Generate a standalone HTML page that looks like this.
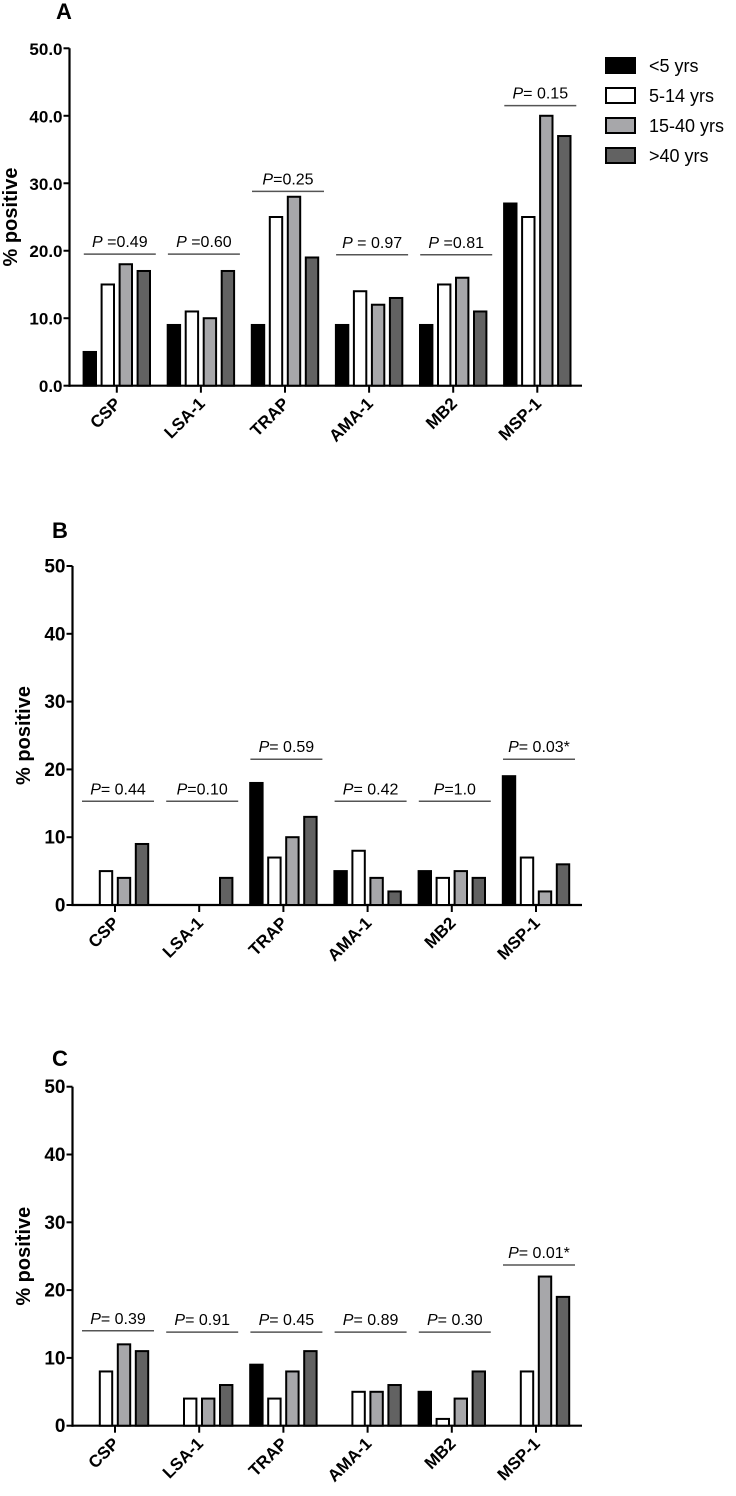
<!DOCTYPE html>
<html><head><meta charset="utf-8"><style>
html,body{margin:0;padding:0;background:#fff;}
svg{display:block;font-family:"Liberation Sans",sans-serif;}
</style></head><body>
<svg id="fig" width="736" height="1496" viewBox="0 0 736 1496" xmlns="http://www.w3.org/2000/svg"></svg>
<script>
const categories = ["CSP","LSA-1","TRAP","AMA-1","MB2","MSP-1"];
const seriesNames = ["<5 yrs","5-14 yrs","15-40 yrs",">40 yrs"];
const aUnder5 = [5,9,9,9,9,27];
const a5to14 = [15,11,25,14,15,25];
const a15to40 = [18,10,28,12,16,40];
const aOver40 = [17,17,19,13,11,37];
const bUnder5 = [0,0,18,5,5,19];
const b5to14 = [5,0,7,8,4,7];
const b15to40 = [4,0,10,4,5,2];
const bOver40 = [9,4,13,2,4,6];
const cUnder5 = [0,0,9,0,5,0];
const c5to14 = [8,4,4,5,1,8];
const c15to40 = [12,4,8,5,4,22];
const cOver40 = [11,6,11,6,8,19];
const aPLabels = ["P =0.49","P =0.60","P=0.25","P = 0.97","P =0.81","P= 0.15"];
const bPLabels = ["P= 0.44","P=0.10","P= 0.59","P= 0.42","P=1.0","P= 0.03*"];
const cPLabels = ["P= 0.39","P= 0.91","P= 0.45","P= 0.89","P= 0.30","P= 0.01*"];
const aPLevels = [19.5,19.5,28.8,19.4,19.4,41.5];
const bPLevels = [15.3,15.3,21.5,15.3,15.3,21.5];
const cPLevels = [14,13.8,13.8,13.8,13.8,23.7];
const aTicks = ["0.0","10.0","20.0","30.0","40.0","50.0"];
const bcTicks = ["0","10","20","30","40","50"];
const tickValues = [0,10,20,30,40,50];

const NS="http://www.w3.org/2000/svg";
const svg=document.getElementById('fig');
const fills=["#000000","#ffffff","#a7a7aa","#626262"];
function mk(tag,attrs,parent){const e=document.createElementNS(NS,tag);for(const k in attrs)e.setAttribute(k,attrs[k]);(parent||svg).appendChild(e);return e;}

function panel(cfg){
  const g=mk('g',{});
  
  
  const y=v=>cfg.y0-(cfg.y0-cfg.y50)*v/50;
  const cx=i=>cfg.c0+i*cfg.step;
  const L=mk('text',{x:cfg.lx,y:cfg.ly,'font-size':22,'font-weight':'bold'},g);L.textContent=cfg.id;
  
  
  const yt=mk('text',{x:0,y:0,'font-size':20,'font-weight':'bold','text-anchor':'middle',transform:`translate(${cfg.tx},${(cfg.y0+cfg.y50)/2}) rotate(-90)`},g);
  yt.textContent='% positive';
  
  
  const ax=mk('line',{x1:cfg.ax,y1:cfg.y50,x2:cfg.ax,y2:cfg.y0+1,stroke:'#000','stroke-width':2.2},g);
  
  
  const xa=mk('line',{x1:cfg.ax-1,y1:cfg.y0,x2:582,y2:cfg.y0,stroke:'#000','stroke-width':2.2},g);
  
  
  tickValues.forEach((v,i)=>{
    mk('line',{x1:cfg.ax-6,y1:y(v),x2:cfg.ax,y2:y(v),stroke:'#000','stroke-width':2},g);
    const t=mk('text',{x:cfg.ax-7,y:y(v)+6.5,'font-size':cfg.tfs,'font-weight':'bold','text-anchor':'end'},g);
    t.textContent=cfg.ticks[i];
    
    
  });
  categories.forEach((c,i)=>{
    mk('line',{x1:cx(i),y1:cfg.y0,x2:cx(i),y2:cfg.y0+7,stroke:'#000','stroke-width':2},g);
    const t=mk('text',{x:0,y:0,'font-size':17,'font-weight':'bold','text-anchor':'end',transform:`translate(${cx(i)+5},${cfg.y0+19}) rotate(-45)`},g);
    t.textContent=c;
    
    
  });
  cfg.series.forEach((arr,s)=>{
    arr.forEach((v,i)=>{
      if(v<=0)return;
      const bx=cx(i)+(-27+18*s)-6.2;
      const r=mk('rect',{x:bx,y:y(v),width:12.4,height:cfg.y0-y(v),fill:fills[s],stroke:'#000','stroke-width':2},g);
      
      
    });
  });
  cfg.pl.forEach((lab,i)=>{
    const ly=y(cfg.plev[i]);
    const x1=cx(i)-33,x2=cx(i)+39;
    const ln=mk('line',{x1:x1,y1:ly,x2:x2,y2:ly,stroke:'#555','stroke-width':1.5},g);
    
    
    const t=mk('text',{x:(x1+x2)/2,y:ly-7,'font-size':16,'text-anchor':'middle'},g);
    const m=lab.match(/^P(.*)$/);
    const ti=mk('tspan',{'font-style':'italic'},t);ti.textContent='P';
    const tr=mk('tspan',{},t);tr.textContent=m[1];
    
    
  });
}
panel({id:'A',lx:56,ly:19,tx:17,ax:69.5,y0:385.7,y50:48.3,c0:116.8,step:84.1,ticks:aTicks,tfs:17,
  series:[aUnder5,a5to14,a15to40,aOver40],pl:aPLabels,plev:aPLevels});
panel({id:'B',lx:52,ly:538,tx:30,ax:72.5,y0:905,y50:566,c0:115,step:84.2,ticks:bcTicks,tfs:19,
  series:[bUnder5,b5to14,b15to40,bOver40],pl:bPLabels,plev:bPLevels});
panel({id:'C',lx:52,ly:1066,tx:30,ax:72.5,y0:1425.7,y50:1086.7,c0:115,step:84.2,ticks:bcTicks,tfs:19,
  series:[cUnder5,c5to14,c15to40,cOver40],pl:cPLabels,plev:cPLevels});
const lg=mk('g',{});


seriesNames.forEach((n,s)=>{
  const yy=58+30*s;
  const r=mk('rect',{x:606,y:yy,width:29,height:15,fill:fills[s],stroke:'#000','stroke-width':2},lg);
  
  
  const t=mk('text',{x:649,y:yy+14,'font-size':18},lg);t.textContent=n;
  
  
});
</script>
</body></html>
